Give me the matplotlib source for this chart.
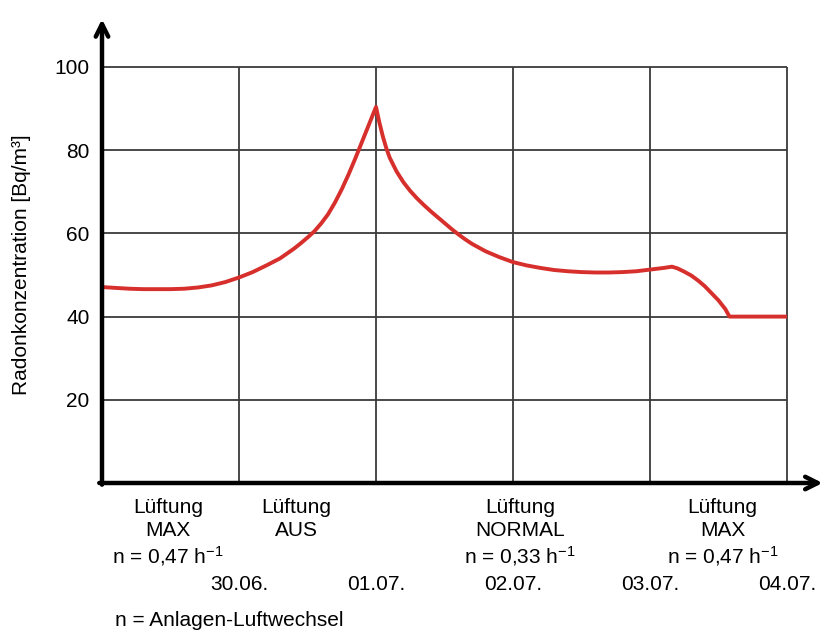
import numpy as np
import matplotlib
matplotlib.use('Agg')
import matplotlib.pyplot as plt

plt.rcParams['font.family'] = ['Liberation Sans', 'DejaVu Sans']
plt.rcParams['mathtext.fontset'] = 'custom'
plt.rcParams['mathtext.rm'] = 'Liberation Sans'
plt.rcParams['mathtext.it'] = 'Liberation Sans'

# radon curve (x in days from start, y in Bq/m3)
days = [0.0, 0.1, 0.2, 0.3, 0.4, 0.5, 0.6, 0.7, 0.8, 0.9,
        1.0, 1.1, 1.2, 1.3, 1.4, 1.45, 1.5, 1.55, 1.6, 1.65, 1.7, 1.75, 1.8, 1.85, 1.9, 1.95, 2.0,
        2.025, 2.05, 2.075, 2.1, 2.15, 2.2, 2.25, 2.3, 2.35, 2.4, 2.45, 2.5, 2.55, 2.6, 2.65,
        2.7, 2.8, 2.9,
        3.0, 3.1, 3.2, 3.3, 3.4, 3.5, 3.6, 3.7, 3.8, 3.9,
        4.0, 4.1, 4.16, 4.2, 4.25, 4.3, 4.35, 4.4, 4.45, 4.5, 4.55, 4.58, 5.0]
radon = [47.1, 46.9, 46.7, 46.6, 46.6, 46.6, 46.7, 47.0, 47.5, 48.3,
         49.4, 50.7, 52.3, 54.0, 56.3, 57.6, 59.0, 60.5, 62.4, 64.6, 67.4, 70.6, 74.2, 78.1, 82.2, 86.3, 90.4,
         86.6, 83.3, 80.5, 78.2, 74.9, 72.3, 70.2, 68.4, 66.8, 65.3, 63.9, 62.5, 61.1, 59.8, 58.6,
         57.5, 55.7, 54.3,
         53.1, 52.3, 51.7, 51.2, 50.9, 50.7, 50.6, 50.6, 50.7, 50.9,
         51.3, 51.7, 52.0, 51.6, 50.8, 49.9, 48.7, 47.3, 45.6, 43.9, 41.8, 40.0, 40.0]

yticks = [20, 40, 60, 80, 100]
xgrid = [1, 2, 3, 4, 5]
dates = ['30.06.', '01.07.', '02.07.', '03.07.', '04.07.']

phase_x = [0.48, 1.42, 3.05, 4.53]
phase_lines = [['Lüftung', 'MAX', 'n = 0,47 h$^{-1}$'],
               ['Lüftung', 'AUS'],
               ['Lüftung', 'NORMAL', 'n = 0,33 h$^{-1}$'],
               ['Lüftung', 'MAX', 'n = 0,47 h$^{-1}$']]
line_y = [-5.3, -10.9, -16.9]

W, H = 825, 635
fs = 15
fig = plt.figure(figsize=(W/100, H/100), dpi=100)
ax = fig.add_axes([102/W, 1-483/H, (W-102)/W, (483-15)/H])
ax.set_xlim(0, (W-102)/137.0)
ax.set_ylim(0, (483-15)/4.16)

for s in ax.spines.values():
    s.set_visible(False)

# grid
ax.vlines(xgrid, 0, 100, color='#3a3a3a', lw=1.3, zorder=1)
ax.hlines(yticks, 0, 5, color='#3a3a3a', lw=1.3, zorder=1)

# curve
ax.plot(days, radon, color='#d62f2c', lw=2.8, solid_joinstyle='round',
        solid_capstyle='butt', zorder=3)

# axes with arrows
arr = dict(arrowstyle='->,head_length=0.9,head_width=0.45', lw=3.2, color='black',
           shrinkA=0, shrinkB=0)
ax.annotate('', xy=(0, 111.5), xytext=(0, -0.4), arrowprops=arr, annotation_clip=False, zorder=4)
ax.annotate('', xy=(5.26, 0), xytext=(-0.02, 0), arrowprops=arr, annotation_clip=False, zorder=4)

ax.set_xticks([])
ax.set_yticks(yticks)
ax.set_yticklabels([str(v) for v in yticks], fontsize=fs)
ax.tick_params(axis='y', length=0, pad=9)

fig.text(22/W, 1-265/H, 'Radonkonzentration [Bq/m³]', rotation=90,
         ha='center', va='center', fontsize=15)

for xp, lines in zip(phase_x, phase_lines):
    for yp, t in zip(line_y, lines):
        ax.text(xp, yp, t, ha='center', va='center_baseline', fontsize=fs)

for xp, d in zip(xgrid, dates):
    ax.text(xp, -23.8, d, ha='center', va='center_baseline', fontsize=fs)

fig.text(115/W, 1-620/H, 'n = Anlagen-Luftwechsel', ha='left', va='center', fontsize=fs)

fig.savefig('out.png', dpi=100)
